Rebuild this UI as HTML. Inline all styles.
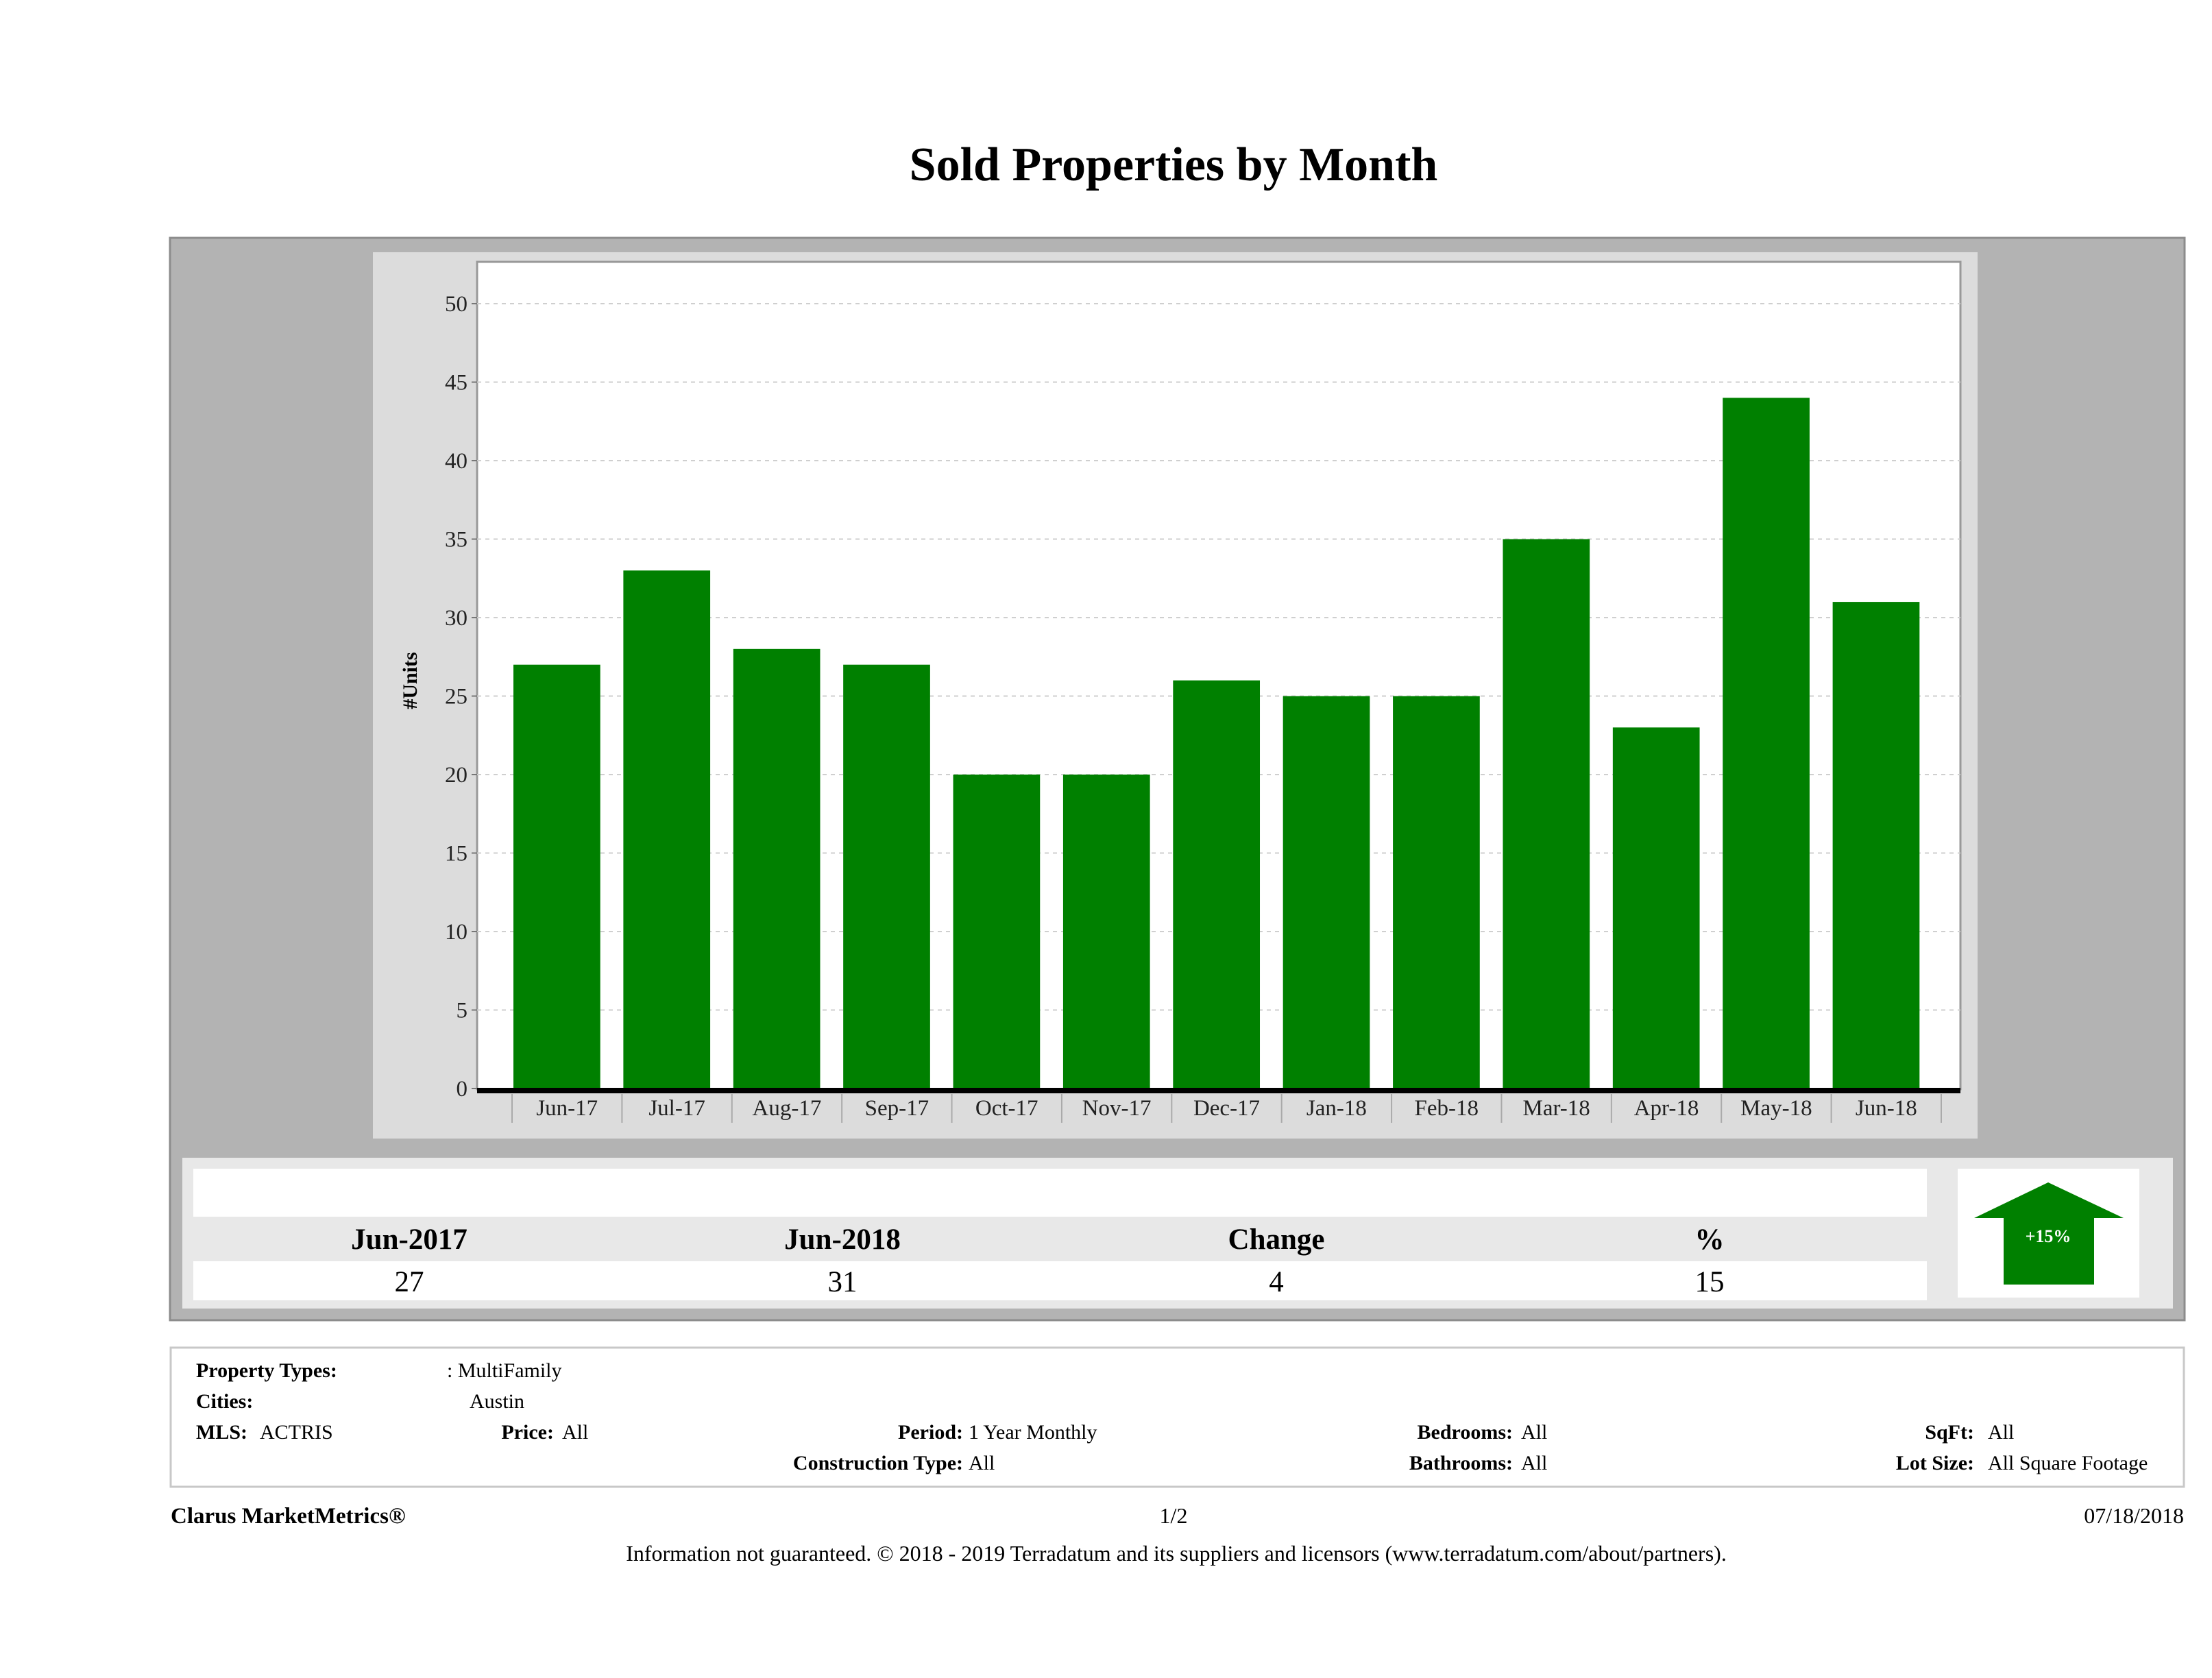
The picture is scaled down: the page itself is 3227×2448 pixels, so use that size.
<!DOCTYPE html>
<html><head><meta charset="utf-8"><style>
html,body{margin:0;padding:0;background:#fff;}
svg{display:block;}
text{font-family:"Liberation Serif",serif;}
</style></head><body>
<svg id="page" width="3227" height="2448" viewBox="0 0 3227 2448" xmlns="http://www.w3.org/2000/svg">
<text x="1712" y="263" font-size="70" font-weight="bold" text-anchor="middle">Sold Properties by Month</text>
<rect x="248" y="347" width="2939" height="1579" fill="#b3b3b3" stroke="#8c8c8c" stroke-width="3"/>
<rect x="544" y="368" width="2341" height="1293" fill="#dcdcdc"/>
<rect x="696" y="382" width="2164" height="1207" fill="#fff" stroke="#999" stroke-width="3"/>
<g id="grid"></g>
<g id="bars"></g>
<g id="xaxis"></g>
<text transform="translate(608,993) rotate(-90)" font-size="30" font-weight="bold" text-anchor="middle">#Units</text>

<rect x="266" y="1689" width="2904" height="220" fill="#e8e8e8"/>
<rect x="282" y="1705" width="2529" height="70" fill="#fff"/>
<rect x="282" y="1840" width="2529" height="57" fill="#fff"/>
<g font-size="43" text-anchor="middle">
<text x="597" y="1822" font-weight="bold">Jun-2017</text>
<text x="1229" y="1822" font-weight="bold">Jun-2018</text>
<text x="1862" y="1822" font-weight="bold">Change</text>
<text x="2494" y="1822" font-weight="bold">%</text>
<text x="597" y="1884">27</text>
<text x="1229" y="1884">31</text>
<text x="1862" y="1884">4</text>
<text x="2494" y="1884">15</text>
</g>
<rect x="2856" y="1705" width="265" height="188" fill="#fff"/>
<polygon points="2988,1725 3098,1777 3055,1777 3055,1874 2923,1874 2923,1777 2880,1777" fill="#008000"/>
<text x="2988" y="1812" font-size="26" font-weight="bold" fill="#fff" text-anchor="middle">+15%</text>

<rect x="249" y="1966" width="2937" height="203" fill="#fff" stroke="#c8c8c8" stroke-width="3"/>
<g font-size="30">
<text x="286" y="2009" font-weight="bold">Property Types:</text>
<text x="652" y="2009">: MultiFamily</text>
<text x="286" y="2054" font-weight="bold">Cities:</text>
<text x="685" y="2054">Austin</text>
<text x="286" y="2099" font-weight="bold">MLS:</text>
<text x="379" y="2099">ACTRIS</text>
<text x="808" y="2099" font-weight="bold" text-anchor="end">Price:</text>
<text x="820" y="2099">All</text>
<text x="1405" y="2099" font-weight="bold" text-anchor="end">Period:</text>
<text x="1413" y="2099">1 Year Monthly</text>
<text x="2207" y="2099" font-weight="bold" text-anchor="end">Bedrooms:</text>
<text x="2219" y="2099">All</text>
<text x="2880" y="2099" font-weight="bold" text-anchor="end">SqFt:</text>
<text x="2900" y="2099">All</text>
<text x="1405" y="2144" font-weight="bold" text-anchor="end">Construction Type:</text>
<text x="1413" y="2144">All</text>
<text x="2207" y="2144" font-weight="bold" text-anchor="end">Bathrooms:</text>
<text x="2219" y="2144">All</text>
<text x="2880" y="2144" font-weight="bold" text-anchor="end">Lot Size:</text>
<text x="2900" y="2144">All Square Footage</text>
</g>
<text x="249" y="2222" font-size="33" font-weight="bold">Clarus MarketMetrics®</text>
<text x="1712" y="2222" font-size="32" text-anchor="middle">1/2</text>
<text x="3186" y="2222" font-size="32" text-anchor="end">07/18/2018</text>
<text x="1716" y="2277" font-size="32" text-anchor="middle">Information not guaranteed. © 2018 - 2019 Terradatum and its suppliers and licensors (www.terradatum.com/about/partners).</text>
</svg>
<script>
const categories = ["Jun-17","Jul-17","Aug-17","Sep-17","Oct-17","Nov-17","Dec-17","Jan-18","Feb-18","Mar-18","Apr-18","May-18","Jun-18"];
const soldUnits = [27,33,28,27,20,20,26,25,25,35,23,44,31];
const yTicks = [0,5,10,15,20,25,30,35,40,45,50];

const NS = "http://www.w3.org/2000/svg";
const plotL = 696, plotR = 2860, y0 = 1588, y50 = 443;
const catL = 747, catW = (2832 - 747) / categories.length;
function yScale(v){ return y0 - (y0 - y50) * v / 50; }
function xScale(i){ return catL + i * catW; }
function mk(tag, attrs, parent){ const e = document.createElementNS(NS, tag); for (const k in attrs) e.setAttribute(k, attrs[k]); parent.appendChild(e); return e; }

const grid = document.getElementById('grid');
yTicks.forEach(function(t){
  const y = yScale(t);
  if (t > 0) {
    const gl = mk('line', {x1: plotL, x2: plotR, y1: y, y2: y, stroke: '#cfcfcf', 'stroke-width': 2, 'stroke-dasharray': '6,6'}, grid);
    
    
  }
  const tk = mk('line', {x1: plotL - 8, x2: plotL, y1: y, y2: y, stroke: '#777', 'stroke-width': 2}, grid);
  
  
  const lb = mk('text', {x: plotL - 14, y: y + 11, 'font-size': 33, 'text-anchor': 'end', fill: '#222'}, grid);
  lb.textContent = t;
  
  
});

const bars = document.getElementById('bars');
soldUnits.forEach(function(v, i){
  const x = xScale(i) + 2;
  const r = mk('rect', {x: x, y: yScale(v), width: catW * 0.79, height: y0 - yScale(v), fill: '#008000'}, bars);
  
  
});

const xa = document.getElementById('xaxis');
const axl = mk('rect', {x: plotL, y: y0 - 1, width: plotR - plotL, height: 8, fill: '#000'}, xa);


for (let i = 0; i <= categories.length; i++) {
  const s = mk('line', {x1: xScale(i), x2: xScale(i), y1: y0 + 8, y2: y0 + 50, stroke: '#aaa', 'stroke-width': 2}, xa);
  
  
}
categories.forEach(function(c, i){
  const t = mk('text', {x: xScale(i) + catW / 2, y: y0 + 39, 'font-size': 33, 'text-anchor': 'middle', fill: '#222'}, xa);
  t.textContent = c;
  
  
});
</script>
</body></html>
